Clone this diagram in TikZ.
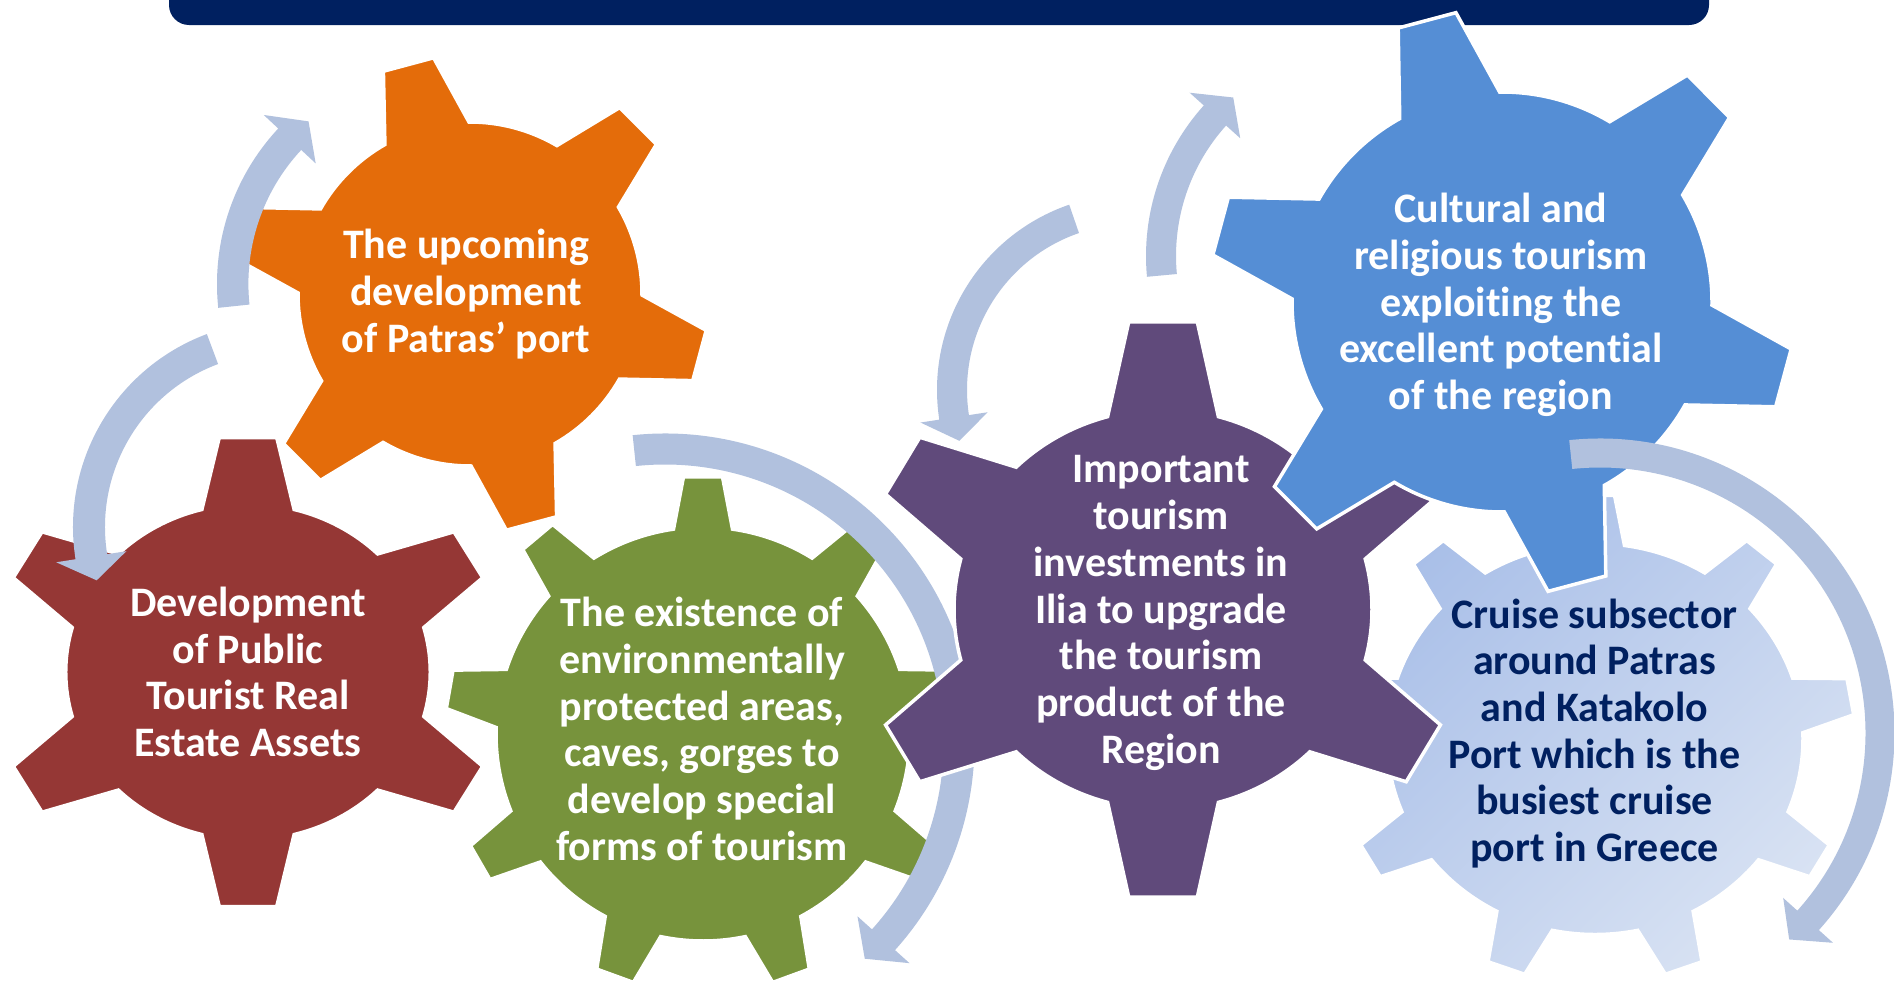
\documentclass[tikz,border=0pt]{standalone}
\usepackage{fontspec}
\setmainfont{Carlito}[Ligatures=NoCommon]
\definecolor{maroonc}{HTML}{953735}
\definecolor{orangec}{HTML}{E46C0A}
\definecolor{greenc}{HTML}{77933C}
\definecolor{purplec}{HTML}{604A7B}
\definecolor{bluec}{HTML}{558ED5}
\definecolor{lbA}{HTML}{A9BFE8}
\definecolor{lbB}{HTML}{D8E2F3}
\definecolor{arrowc}{HTML}{B1C1DE}
\definecolor{navyc}{HTML}{002060}
\tikzset{
  gearline/.style={draw=white, line width=3.5},
  geartext/.style={font=\bfseries\fontsize{42}{46.7}\selectfont, align=center, text=white, inner sep=0pt},
}
% #1 path options, #2 cx, #3 cy, #4 teeth, #5 rotation (math deg), #6 tip radius, #7 root radius, #8 tip half width, #9 base half width
\newcommand\gearpath[9]{%
  \begin{scope}[shift={(#2,#3)}]
    \pgfmathsetmacro\gst{360/#4}
    \pgfmathsetmacro\gta{asin(#8/#6)}
    \pgfmathsetmacro\gba{asin(#9/#7)}
    \pgfmathsetmacro\gaz{-(#5)}
    \pgfmathtruncatemacro\gnm{#4-1}
    \path[#1] ({\gaz-\gba}:#7) \foreach \i in {0,...,\gnm} { -- ({\gaz+\i*\gst-\gta}:#6) -- ({\gaz+\i*\gst+\gta}:#6) -- ({\gaz+\i*\gst+\gba}:#7) arc[start angle={\gaz+\i*\gst+\gba}, end angle={\gaz+(\i+1)*\gst-\gba}, radius=#7] } -- cycle;
  \end{scope}}
% #1 cx, #2 cy, #3 mid radius, #4 width, #5 tail angle, #6 head base angle, #7 tip angle, #8 barb half span
\newcommand\circarrow[8]{%
  \begin{scope}[shift={(#1,#2)}]
    \fill[arrowc] ({-(#5)}:{#3+#4/2}) arc[start angle={-(#5)}, end angle={-(#6)}, radius={#3+#4/2}] -- ({-(#6)}:{#3+#8}) -- ({-(#7)}:{#3}) -- ({-(#6)}:{#3-#8}) -- ({-(#6)}:{#3-#4/2}) arc[start angle={-(#6)}, end angle={-(#5)}, radius={#3-#4/2}] -- cycle;
  \end{scope}}
\begin{document}
\begin{tikzpicture}[x=1pt,y=-1pt]
\useasboundingbox (0,0) rectangle (1894,980);
\clip (0,0) rectangle (1894,980);
\fill[white] (0,0) rectangle (1894,980);
% banner
\fill[navyc, rounded corners=20pt] (169,-40) rectangle (1709,25);
% gears
\gearpath{fill=maroonc, gearline, xscale=1.085}{248}{672}{6}{90}{236}{168}{26.5}{42.5}
\gearpath{fill=orangec, gearline}{470}{294}{6}{45}{239}{172}{26}{43.5}
\gearpath{fill=greenc, gearline}{703}{734}{9}{90}{258}{207}{19.5}{29.5}
\circarrow{665}{743}{294}{31}{96}{-42}{-47.2}{35}
\gearpath{top color=lbA, bottom color=lbB, shading angle=45, gearline, yscale=0.94}{1595}{739}{9}{90}{260}{208}{19.5}{29.5}
\gearpath{fill=purplec, gearline, xscale=1.045}{1163}{609.5}{6}{90}{289.5}{200}{32.8}{53}
\gearpath{fill=bluec, gearline}{1502}{302}{6}{44.9}{293}{210}{29.9}{51.7}
% arrows
\circarrow{445}{284}{212.3}{31.4}{186}{137}{130}{35.5}
\circarrow{279}{527}{190}{32}{110.5}{189}{196.3}{35.5}
\circarrow{1133}{390}{181}{30}{109}{188.7}{196.3}{34}
\circarrow{1371}{256}{210}{30}{185.3}{138}{131}{34}
\circarrow{1600}{733}{280}{29}{96}{-42}{-47.5}{33.5}
% texts
\node[geartext] (t1) at (248,672) {Development\\of Public\\Tourist Real\\Estate Assets};
\node[geartext] (t2) at (466,294) {The upcoming\\development\\of Patras’ port};
\node[geartext] (t3) at (702,729) {The existence of\\environmentally\\protected areas,\\caves, gorges to\\develop special\\forms of tourism};
\node[geartext] (t4) at (1161,613) {Important\\tourism\\investments in\\Ilia to upgrade\\the tourism\\product of the\\Region};
\node[geartext] (t5) at (1501,305) {Cultural and\\religious tourism\\exploiting the\\excellent potential\\of the region};
\node[geartext, text=navyc] (t6) at (1594.5,733.5) {Cruise subsector\\around Patras\\and Katakolo\\Port which is the\\busiest cruise\\port in Greece};
\end{tikzpicture}
\end{document}
